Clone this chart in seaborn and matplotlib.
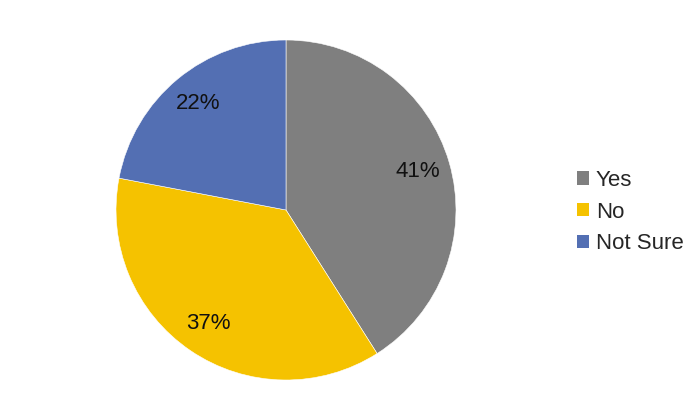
import matplotlib
matplotlib.use("Agg")
import matplotlib.pyplot as plt
import seaborn as sns
from matplotlib.patches import Patch

sns.set_theme(style="white")
plt.rcParams['font.family'] = ['Liberation Sans', 'DejaVu Sans']

categories = ["Yes", "No", "Not Sure"]
values = [41, 37, 22]
colors = sns.color_palette(["#7f7f7f", "#f5c200", "#536fb3"])

fig = plt.figure(figsize=(7, 4.2), dpi=100)
ax = fig.add_axes([116/700, 40/420, 340/700, 340/420])
wedges, texts, autotexts = ax.pie(
    values, colors=colors, startangle=90, counterclock=False,
    autopct=lambda p: f"{p:.0f}%", pctdistance=0.81,
    wedgeprops=dict(linewidth=0.4, edgecolor="white"),
    textprops=dict(fontsize=16, color="#111111"))
ax.set_xlim(-1, 1)
ax.set_ylim(-1, 1)
ax.set_aspect("equal")

handles = [Patch(facecolor=c, edgecolor="none") for c in colors]
fig.legend(handles, categories, loc="center left", bbox_to_anchor=(577/700, 0.495),
           frameon=False, fontsize=16, handlelength=0.55, handleheight=0.55,
           handletextpad=0.3, labelspacing=0.48, borderaxespad=0, borderpad=0)
fig.savefig("out.png", dpi=100, facecolor="white")
